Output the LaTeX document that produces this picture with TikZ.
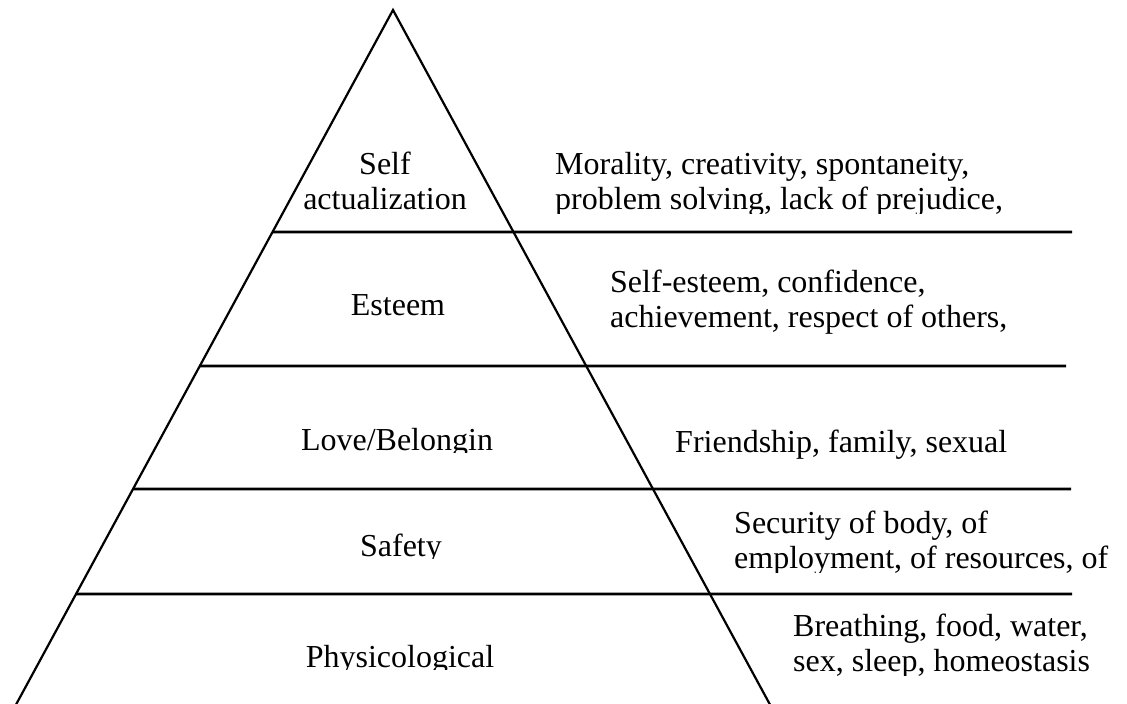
\documentclass[tikz,border=0pt]{standalone}
\usepackage{fontspec}
\setmainfont{Liberation Serif}
\usetikzlibrary{calc}

\begin{document}
\begin{tikzpicture}[x=1pt, y=-1pt,
  level/.style={font=\fontsize{32}{34.5}\selectfont, inner sep=0pt, align=center, anchor=base},
  note/.style={font=\fontsize{32}{34.5}\selectfont, inner sep=0pt, align=left, anchor=base west},
  rung/.style={line width=2.8pt}]
\useasboundingbox (0,0) rectangle (1127,704);
\coordinate (top) at (393,10);
\coordinate (bl) at (12,712);
\coordinate (br) at (774,712);
% Draw the pyramid
\draw[line width=2.2pt] (bl) -- (top) -- (br);
\foreach \y/\xend in {232/1072, 366/1066, 489/1071, 594/1072} {
    \draw[rung] ($(top)!{(\y-10)/702}!(bl)$) -- (\xend,\y);
}
% Levels
\node[level] (self) at (385,209) {Self\\actualization};
\node[level] (esteem) at (398,315) {Esteem};
\begin{scope}
\clip (250,400) rectangle (560,452);
\node[level] (love) at (397,450) {Love/Belongin};
\end{scope}
\begin{scope}
\clip (300,510) rectangle (500,558);
\node[level] (safety) at (401,556) {Safety};
\end{scope}
\begin{scope}
\clip (280,620) rectangle (520,669);
\node[level] (physio) at (400,667) {Physicological};
\end{scope}
% Needs
\begin{scope}
\clip (540,140) rectangle (1100,213);
\node[note] (morality) at (555,209) {Morality, creativity, spontaneity,\\problem solving, lack of prejudice,};
\end{scope}
\node[note] (selfesteem) at (610,327) {Self-esteem, confidence,\\achievement, respect of others,};
\node[note] (friends) at (675,452) {Friendship, family, sexual};
\begin{scope}
\clip (720,500) rectangle (1127,572);
\node[note] (security) at (734,568) {Security of body, of\\employment, of resources, of};
\end{scope}
\begin{scope}
\clip (780,600) rectangle (1127,675);
\node[note] (breathing) at (793,671) {Breathing, food, water,\\sex, sleep, homeostasis};
\end{scope}
\end{tikzpicture}
\end{document}
